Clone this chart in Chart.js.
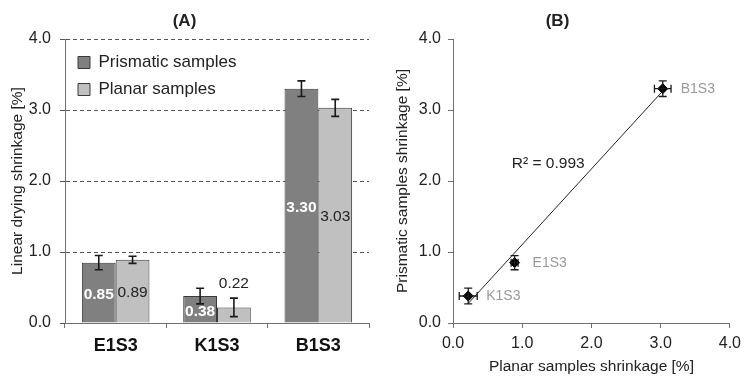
<!DOCTYPE html>
<html lang="en">
<head>
<meta charset="UTF-8">
<title>Drying shrinkage</title>
<script src="https://cdn.jsdelivr.net/npm/chart.js"></script>
<style>
    body { margin: 0; background: #fff; }
    .panel { position: absolute; top: 0; height: 379px; }
    #left { left: 0; width: 380px; }
    #right { left: 380px; width: 367px; }
</style>
</head>
<body>
<div class="panel" id="left"><canvas id="barChart"></canvas></div>
<div class="panel" id="right"><canvas id="scatterChart"></canvas></div>
<script>
    // data
    const categories = ['E1S3', 'K1S3', 'B1S3'];
    const prismatic = [0.85, 0.38, 3.30];
    const planar = [0.89, 0.22, 3.03];
    const prismaticErr = [0.10, 0.11, 0.11];
    const planarErr = [0.05, 0.13, 0.12];
    const axisTicks = [0, 1, 2, 3, 4];
    const r2Text = 'R² = 0.993';

    Chart.defaults.font.family = "'Liberation Sans', Arial, sans-serif";
    Chart.defaults.color = '#222';

    const axisGray = '#707070';
    const fmt = v => Number(v).toFixed(1);
    const setTicks = s => { s.ticks = axisTicks.map(v => ({ value: v })); };

    function errorBar(ctx, x, y1, y2, horizontal) {
        ctx.beginPath();
        if (horizontal) {
            ctx.moveTo(y1, x); ctx.lineTo(y2, x);
            ctx.moveTo(y1, x - 4); ctx.lineTo(y1, x + 4);
            ctx.moveTo(y2, x - 4); ctx.lineTo(y2, x + 4);
        } else {
            ctx.moveTo(x, y1); ctx.lineTo(x, y2);
            ctx.moveTo(x - 4, y1); ctx.lineTo(x + 4, y1);
            ctx.moveTo(x - 4, y2); ctx.lineTo(x + 4, y2);
        }
        ctx.stroke();
    }

    // error bars + value labels on the bars
    const barExtras = {
        id: 'barExtras',
        afterDatasetsDraw(chart) {
            const ctx = chart.ctx;
            const ys = chart.scales.y;
            chart.data.datasets.forEach((ds, di) => {
                chart.getDatasetMeta(di).data.forEach((bar, i) => {
                    const v = ds.data[i];
                    const e = ds.errors[i];
                    const top = ys.getPixelForValue(v + e);
                    const bot = ys.getPixelForValue(v - e);
                    ctx.save();
                    ctx.strokeStyle = '#1a1a1a';
                    ctx.lineWidth = 1.6;
                    errorBar(ctx, bar.x, top, bot, false);

                    ctx.textAlign = 'center';
                    ctx.textBaseline = 'middle';
                    ctx.font = (di === 0 ? 'bold ' : '') + "15.5px 'Liberation Sans', Arial, sans-serif";
                    ctx.fillStyle = di === 0 ? '#fff' : '#222';
                    let ly = (bar.y + bar.base) / 2 + 2;
                    if (bar.base - bar.y < 22) {
                        ly = top - 14;
                        ctx.fillStyle = '#222';
                    }
                    ctx.fillText(v.toFixed(2), bar.x, ly);
                    ctx.restore();
                });
            });
        },
        afterLayout(chart) {
            // legend sits inside the plot, top left
            chart.legend.left = chart.chartArea.left + 3;
            chart.legend.top = chart.chartArea.top + 5;
        }
    };

    new Chart(document.getElementById('barChart'), {
        type: 'bar',
        data: {
            labels: categories,
            datasets: [{
                label: 'Prismatic samples',
                data: prismatic,
                errors: prismaticErr,
                backgroundColor: '#808080',
                borderColor: '#3a3a3a',
                borderWidth: 1,
                categoryPercentage: 0.667,
                barPercentage: 1
            }, {
                label: 'Planar samples',
                data: planar,
                errors: planarErr,
                backgroundColor: '#c0c0c0',
                borderColor: '#3a3a3a',
                borderWidth: 1,
                categoryPercentage: 0.667,
                barPercentage: 1
            }]
        },
        options: {
            responsive: true,
            maintainAspectRatio: false,
            animation: false,
            layout: { padding: { left: 0, right: 11, top: 0, bottom: 0 } },
            plugins: {
                title: {
                    display: true,
                    text: '(A)',
                    font: { size: 17, weight: 'bold' },
                    padding: { top: 11, bottom: 7.6 }
                },
                legend: {
                    position: 'chartArea',
                    align: 'start',
                    labels: {
                        boxWidth: 12,
                        boxHeight: 12,
                        padding: 10,
                        font: { size: 17 },
                        color: '#222'
                    }
                },
                tooltip: { enabled: false }
            },
            scales: {
                x: {
                    afterFit: s => { s.height = 56; },
                    border: { color: axisGray },
                    grid: { offset: true, drawOnChartArea: false, tickLength: 5, color: axisGray },
                    ticks: { font: { size: 18, weight: 'bold' }, color: '#111', padding: 7 }
                },
                y: {
                    min: 0,
                    max: 4,
                    afterBuildTicks: setTicks,
                    afterFit: s => { s.width = 65; },
                    border: { color: axisGray, dash: [4, 3] },
                    grid: { color: '#555', tickLength: 5 },
                    ticks: { font: { size: 16 }, padding: 9, callback: fmt },
                    title: {
                        display: true,
                        text: 'Linear drying shrinkage [%]',
                        font: { size: 15.5 },
                        padding: { top: 8, bottom: 0 }
                    }
                }
            }
        },
        plugins: [barExtras]
    });

    // least squares line through the three points
    const n = planar.length;
    const mx = planar.reduce((a, b) => a + b, 0) / n;
    const my = prismatic.reduce((a, b) => a + b, 0) / n;
    let sxy = 0, sxx = 0;
    for (let i = 0; i < n; i++) {
        sxy += (planar[i] - mx) * (prismatic[i] - my);
        sxx += (planar[i] - mx) ** 2;
    }
    const slope = sxy / sxx;
    const icpt = my - slope * mx;
    const xLo = Math.min(...planar), xHi = Math.max(...planar);

    const scatterExtras = {
        id: 'scatterExtras',
        afterDatasetsDraw(chart) {
            const ctx = chart.ctx;
            const xs = chart.scales.x, ys = chart.scales.y;
            ctx.save();
            ctx.strokeStyle = '#1a1a1a';
            ctx.lineWidth = 1.3;
            categories.forEach((name, i) => {
                const px = xs.getPixelForValue(planar[i]);
                const py = ys.getPixelForValue(prismatic[i]);
                errorBar(ctx, px, ys.getPixelForValue(prismatic[i] + prismaticErr[i]),
                    ys.getPixelForValue(prismatic[i] - prismaticErr[i]), false);
                errorBar(ctx, py, xs.getPixelForValue(planar[i] - planarErr[i]),
                    xs.getPixelForValue(planar[i] + planarErr[i]), true);
                ctx.fillStyle = '#999';
                ctx.font = "14px 'Liberation Sans', Arial, sans-serif";
                ctx.textAlign = 'left';
                ctx.textBaseline = 'middle';
                ctx.fillText(name, px + 18, py);
            });
            ctx.fillStyle = '#222';
            ctx.font = "15.5px 'Liberation Sans', Arial, sans-serif";
            ctx.fillText(r2Text, xs.getPixelForValue(0.85), ys.getPixelForValue(2.25));
            ctx.restore();
        }
    };

    new Chart(document.getElementById('scatterChart'), {
        type: 'scatter',
        data: {
            datasets: [{
                type: 'line',
                label: 'Linear fit',
                data: [{ x: xLo, y: slope * xLo + icpt }, { x: xHi, y: slope * xHi + icpt }],
                borderColor: '#222',
                borderWidth: 1,
                pointRadius: 0
            }, {
                label: 'Samples',
                data: categories.map((c, i) => ({ x: planar[i], y: prismatic[i] })),
                pointStyle: 'rectRot',
                pointRadius: 5,
                backgroundColor: '#000',
                borderColor: '#000'
            }]
        },
        options: {
            responsive: true,
            maintainAspectRatio: false,
            animation: false,
            layout: { padding: { left: 0, right: 12, top: 0, bottom: 0 } },
            plugins: {
                title: {
                    display: true,
                    text: '(B)',
                    font: { size: 17, weight: 'bold' },
                    padding: { top: 11, bottom: 7.6 }
                },
                legend: { display: false },
                tooltip: { enabled: false }
            },
            scales: {
                x: {
                    type: 'linear',
                    min: 0,
                    max: 4,
                    afterBuildTicks: setTicks,
                    afterFit: s => { s.height = 56; },
                    border: { color: axisGray },
                    grid: { drawOnChartArea: false, tickLength: 5, color: axisGray },
                    ticks: { font: { size: 16 }, padding: 6, callback: fmt },
                    title: {
                        display: true,
                        text: 'Planar samples shrinkage [%]',
                        font: { size: 15.5 },
                        padding: { top: 0, bottom: 3 }
                    }
                },
                y: {
                    min: 0,
                    max: 4,
                    afterBuildTicks: setTicks,
                    afterFit: s => { s.width = 73; },
                    border: { color: axisGray },
                    grid: { drawOnChartArea: false, tickLength: 5, color: axisGray },
                    ticks: { font: { size: 16 }, padding: 7, callback: fmt },
                    title: {
                        display: true,
                        text: 'Prismatic samples shrinkage [%]',
                        font: { size: 15.5 },
                        padding: { top: 13, bottom: 0 }
                    }
                }
            }
        },
        plugins: [scatterExtras]
    });
</script>
</body>
</html>
